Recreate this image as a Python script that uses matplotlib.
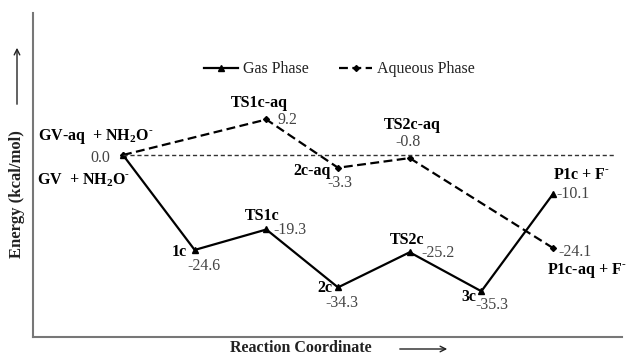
import matplotlib
matplotlib.use("Agg")
import matplotlib.pyplot as plt

plt.rcParams['font.family'] = ['Liberation Serif', 'DejaVu Serif']
plt.rcParams['mathtext.fontset'] = 'custom'
plt.rcParams['mathtext.rm'] = 'Liberation Serif'
plt.rcParams['mathtext.bf'] = 'Liberation Serif:bold'

gas_x = [0, 1, 2, 3, 4, 5, 6]
gas_y = [0.0, -24.6, -19.3, -34.3, -25.2, -35.3, -10.1]
gas_names = ["GV  + NH$_\\mathbf{2}$O$^{\\mathbf{\\text{-}}}$", "1c", "TS1c", "2c", "TS2c", "3c",
             "P1c + F$^{\\mathbf{\\text{-}}}$"]

aq_x = [0, 2, 3, 4, 6]
aq_y = [0.0, 9.2, -3.3, -0.8, -24.1]
aq_names = ["GV-aq  + NH$_\\mathbf{2}$O$^{\\mathbf{\\text{-}}}$", "TS1c-aq", "2c-aq", "TS2c-aq",
            "P1c-aq + F$^{\\mathbf{\\text{-}}}$"]

W, H = 629, 355
fig = plt.figure(figsize=(W / 100, H / 100), dpi=100)
ax = fig.add_axes([33 / W, 1 - 337 / H, (622 - 33) / W, (337 - 13) / H])

xpx = 71.67
ypx = 3.86
ax.set_xlim((33 - 123) / xpx, (622 - 123) / xpx)
ax.set_ylim((155 - 337) / ypx, (155 - 13) / ypx)

ax.plot(gas_x, gas_y, color='black', lw=1.6, marker='^', ms=4, label='Gas Phase')
ax.plot(aq_x, aq_y, color='black', lw=1.6, ls=(0, (4, 2)), marker='D', ms=3, label='Aqueous Phase')
ax.plot([0, 6.85], [0, 0], color='#333333', lw=1.0, ls=(0, (3, 2)))

for s in ['top', 'right']:
    ax.spines[s].set_visible(False)
for s in ['left', 'bottom']:
    ax.spines[s].set_color('#777777')
    ax.spines[s].set_linewidth(1.5)
ax.set_xticks([])
ax.set_yticks([])

fs = 11.5
leg = ax.legend(loc='upper left', bbox_to_anchor=((198 - 33) / (622 - 33), 1 - (55 - 13) / (337 - 13)),
                ncol=2, frameon=False, fontsize=fs, handlelength=2.1, handletextpad=0.3,
                columnspacing=1.9, borderaxespad=0)
for t in leg.get_texts():
    t.set_color('#222222')

def px(xp, yp):
    return ((xp - 123) / xpx, (155 - yp) / ypx)

valc = '#444444'
bold = dict(fontsize=fs, fontweight='bold', color='black')
val = dict(fontsize=fs, color=valc)

def T(xp, yp, s, ha='left', **kw):
    x, y = px(xp, yp)
    ax.text(x, y, s, ha=ha, va='center', **kw)

# gas phase
T(37, 180, gas_names[0], **bold)
T(110, 158, "0.0", ha='right', **val)
T(187, 252, gas_names[1], ha='right', **bold)
T(187, 266, "-24.6", **val)
T(262, 216, gas_names[2], ha='center', **bold)
T(273, 230, "-19.3", **val)
T(333, 288, gas_names[3], ha='right', **bold)
T(325, 303, "-34.3", **val)
T(407, 240, gas_names[4], ha='center', **bold)
T(421, 253, "-25.2", **val)
T(476, 297, gas_names[5], ha='right', **bold)
T(475, 305, "-35.3", **val)
T(553, 175, gas_names[6], **bold)
T(556, 194, "-10.1", **val)

# aqueous phase
T(38, 137, aq_names[0], **bold)
T(259, 103, aq_names[1], ha='center', **bold)
T(278, 120, "9.2", **val)
T(312, 171, aq_names[2], ha='center', **bold)
T(327, 183, "-3.3", **val)
T(412, 125, aq_names[3], ha='center', **bold)
T(408, 142, "-0.8", ha='center', **val)
T(558, 252, "-24.1", **val)
T(547, 270, aq_names[4], **bold)

# axis labels with arrows
fig.text(17 / W, 1 - 194 / H, "Energy (kcal/mol)", rotation=90, ha='center', va='center',
         fontsize=12, fontweight='bold', color='#222222')
fig.text(301 / W, 1 - 348 / H, "Reaction Coordinate", ha='center', va='center',
         fontsize=fs, fontweight='bold', color='#222222')
fig.add_artist(matplotlib.patches.FancyArrowPatch((17 / W, 1 - 107 / H), (17 / W, 1 - 45 / H),
               transform=fig.transFigure, arrowstyle='->', mutation_scale=10, color='#222222', lw=1))
fig.add_artist(matplotlib.patches.FancyArrowPatch((397 / W, 1 - 349 / H), (450 / W, 1 - 349 / H),
               transform=fig.transFigure, arrowstyle='->', mutation_scale=10, color='#222222', lw=1))

fig.savefig("out.png", dpi=100)
